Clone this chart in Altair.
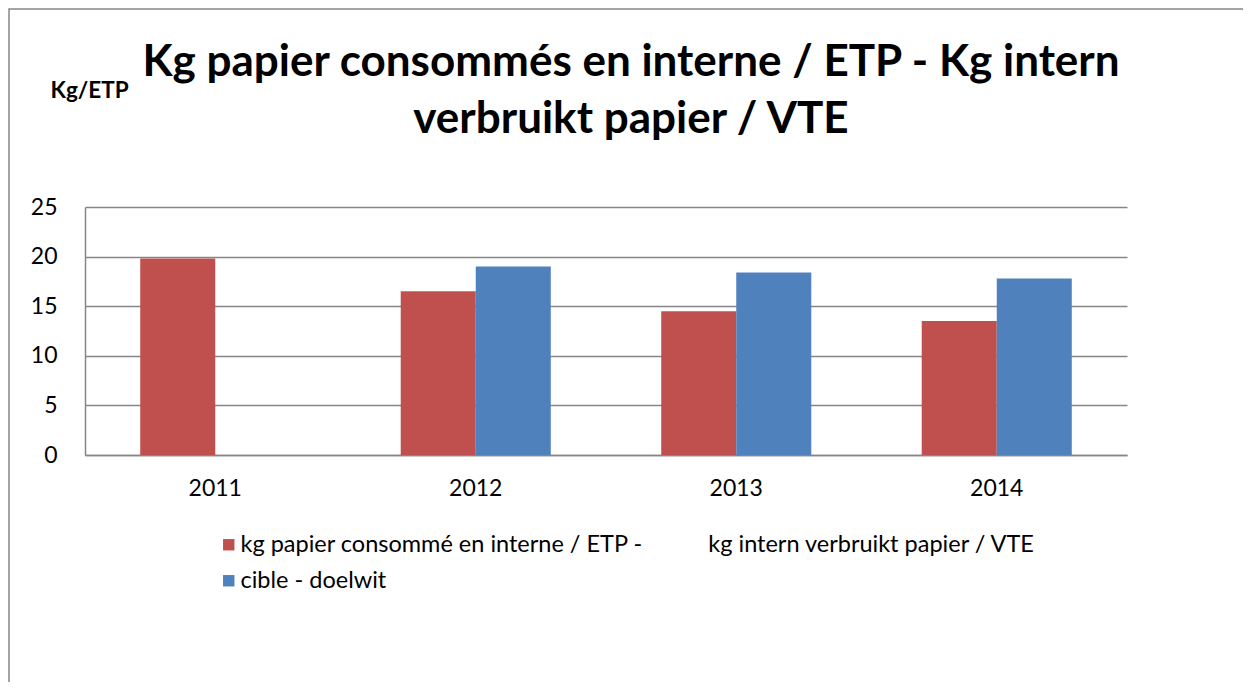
import altair as alt
import pandas as pd

years = ["2011", "2012", "2013", "2014"]
conso = [19.8, 16.5, 14.5, 13.5]
cible = [None, 19.0, 18.4, 17.8]
series_names = [
    "kg papier consommé en interne / ETP - kg intern verbruikt papier / VTE",
    "cible - doelwit",
]
colors = ["#C0504D", "#4F81BD"]
y_ticks = [0, 5, 10, 15, 20, 25]
title_lines = [
    "Kg papier consommés en interne / ETP - Kg intern",
    "verbruikt papier / VTE",
]
y_title = "Kg/ETP"

rows = []
for yr, a, b in zip(years, conso, cible):
    if a is not None:
        rows.append({"year": yr, "series": series_names[0], "value": a})
    if b is not None:
        rows.append({"year": yr, "series": series_names[1], "value": b})
df = pd.DataFrame(rows)

FONT = "Lato"
GRAY = "#868686"
NB = "\u00a0" * 11

bars = alt.Chart(df).mark_bar().encode(
    x=alt.X("year:N", sort=years,
            scale=alt.Scale(paddingInner=0.424, paddingOuter=0.212),
            axis=alt.Axis(title=None, labelAngle=0, ticks=False, domainColor=GRAY,
                          domainWidth=1.5, labelFontSize=23, labelFont=FONT,
                          labelColor="#000000", labelPadding=22)),
    xOffset=alt.XOffset("series:N", sort=series_names),
    y=alt.Y("value:Q", scale=alt.Scale(domain=[0, 25], nice=False),
            axis=alt.Axis(values=y_ticks, title=y_title, titleAngle=0,
                          titleX=-35, titleY=-110, titleAlign="left",
                          titleBaseline="alphabetic", titleFont=FONT,
                          titleFontSize=22.5, titleFontWeight="bold",
                          titleColor="#000000",
                          ticks=False, domainColor=GRAY, domainWidth=1.5,
                          gridColor=GRAY, gridWidth=1.5,
                          labelFontSize=23, labelFont=FONT, labelColor="#000000",
                          labelPadding=28)),
    color=alt.Color("series:N", sort=series_names,
                    scale=alt.Scale(domain=series_names, range=colors),
                    legend=alt.Legend(title=None, orient="none", legendX=132, legendY=326,
                                      direction="vertical", symbolType="square",
                                      symbolSize=130, symbolStrokeWidth=0,
                                      labelFont=FONT, labelFontSize=23.5,
                                      labelColor="#000000", labelLimit=1200,
                                      rowPadding=11, padding=0, labelOffset=0,
                                      labelExpr="replace(datum.label, ' - kg', ' -" + NB + "kg')")),
)

frame = alt.Chart(pd.DataFrame({"a": [0]})).mark_rect(
    fill=None, stroke=GRAY, strokeWidth=1.5
).encode(
    x=alt.value(-76), x2=alt.value(1400), y=alt.value(-198), y2=alt.value(900)
)

chart = alt.layer(frame, bars).properties(
    width=1042,
    height=248,
    padding={"left": 77, "top": 199, "right": 116, "bottom": 227},
    autosize=alt.AutoSizeParams(type="none"),
    title=alt.TitleParams(text=title_lines, fontSize=44, font=FONT, fontWeight="bold",
                          color="#000000", anchor="middle", dx=25, offset=0, dy=134,
                          lineHeight=57),
).configure_view(stroke=None)

chart.save("out.html", embed_options={"renderer": "svg", "actions": False})
